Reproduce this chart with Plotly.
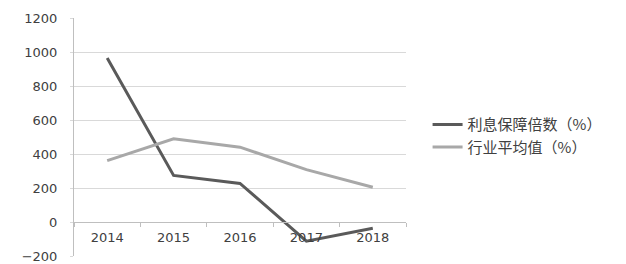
import plotly.graph_objects as go

years = ["2014", "2015", "2016", "2017", "2018"]
interest_coverage = [965, 274, 227, -113, -37]
industry_avg = [361, 489, 440, 308, 204]
names = ["利息保障倍数（%）", "行业平均值（%）"]
y_ticks = [-200, 0, 200, 400, 600, 800, 1000, 1200]

fig = go.Figure()
fig.add_trace(go.Scatter(x=years, y=interest_coverage, mode="lines", name=names[0],
                         line=dict(color="#5a5a5a", width=3)))
fig.add_trace(go.Scatter(x=years, y=industry_avg, mode="lines", name=names[1],
                         line=dict(color="#a8a8a8", width=3)))

ymin, ymax = -200, 1200
fig.update_layout(
    width=626, height=264,
    margin=dict(l=74, r=220, t=18, b=8),
    paper_bgcolor="white", plot_bgcolor="white",
    showlegend=True,
    legend=dict(x=1.065, y=0.505, xanchor="left", yanchor="middle",
                font=dict(family="Noto Sans CJK SC", size=15, color="#404040"),
                tracegroupgap=0, itemwidth=30),
    xaxis=dict(type="category", range=[-0.5, len(years) - 0.5], automargin=False,
               anchor="free", position=(0 - ymin) / (ymax - ymin),
               showline=True, linecolor="#bfbfbf", linewidth=1,
               ticks="outside", tickson="boundaries", ticklen=4, tickcolor="#bfbfbf",
               showgrid=False, tickfont=dict(family="DejaVu Sans", size=13, color="#404040"),
               ticklabelstandoff=3),
    yaxis=dict(range=[ymin, ymax], tickvals=y_ticks, showgrid=True, gridcolor="#d9d9d9",
               automargin=False,
               zeroline=False, showline=True, linecolor="#bfbfbf", linewidth=1,
               ticks="outside", ticklen=3, tickcolor="#d9d9d9",
               tickfont=dict(family="DejaVu Sans", size=13, color="#404040"),
               ticklabelstandoff=10),
)
fig.write_html("out.html")
